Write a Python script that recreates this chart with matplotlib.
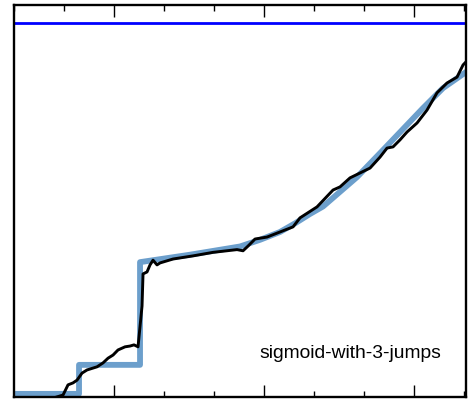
"""Noisy data over a sigmoid-with-3-jumps model curve."""

import matplotlib
matplotlib.use("Agg")
import matplotlib.pyplot as plt
from matplotlib.ticker import MultipleLocator

plt.rcParams["font.family"] = ["Liberation Sans", "DejaVu Sans"]

# model curve (steps then smooth rise)
model_x = [0.08, 1.30, 1.30, 2.52, 2.52, 3.52, 4.52, 4.92, 5.32, 5.62,
           5.92, 6.18, 6.86, 7.38, 8.18, 8.58, 9.04]
model_y = [0.8, 0.8, 8.2, 8.2, 34.4, 36.3, 38.4, 40.1, 42.1, 44.3,
           46.7, 48.6, 56.1, 63.0, 73.7, 78.8, 82.9]

# measured data
data_x = [0.0, 0.7, 0.98, 1.08, 1.18, 1.26, 1.36, 1.46, 1.66, 1.78, 1.88,
          1.98, 2.08, 2.22, 2.32, 2.40, 2.48, 2.56, 2.58, 2.66, 2.72, 2.78,
          2.86, 2.92, 3.18, 3.58, 3.98, 4.46, 4.58, 4.68, 4.82, 5.06, 5.32,
          5.58, 5.72, 6.06, 6.38, 6.52, 6.72, 7.12, 7.32, 7.46, 7.58, 7.72,
          7.86, 8.06, 8.26, 8.46, 8.66, 8.86, 8.98, 9.04]
data_y = [-0.8, -0.6, 0.5, 3.1, 3.6, 4.3, 6.1, 6.9, 7.7, 8.7, 9.9,
          10.7, 12.0, 12.8, 13.0, 13.3, 12.8, 23.2, 31.4, 31.9, 33.7, 34.9,
          33.7, 34.2, 35.2, 36.0, 36.9, 37.6, 37.3, 38.5, 40.3, 40.8, 42.1,
          43.4, 45.7, 48.5, 52.8, 53.6, 55.9, 58.4, 61.2, 63.5, 63.8, 65.6,
          67.6, 69.9, 73.2, 77.6, 80.1, 81.6, 84.7, 85.5]

ceiling = 95.4
label = "sigmoid-with-3-jumps"

fig = plt.figure(figsize=(4.77, 3.99), dpi=100)
ax = fig.add_axes([0.0294, 0.005, 0.9476, 0.9825])

ax.axhline(ceiling, color="blue", lw=2.0)
ax.plot(model_x, model_y, color="#6c9fcc", lw=4.2, zorder=2)
ax.plot(data_x, data_y, color="black", lw=2.1, zorder=3)

ax.text(0.745, 0.11, label, transform=ax.transAxes, ha="center", va="center",
        fontsize=13.9)

ax.set_xlim(0, 9.04)
ax.set_ylim(0, 100)
ax.xaxis.set_major_locator(MultipleLocator(3, offset=2))
ax.xaxis.set_minor_locator(MultipleLocator(1))
ax.set_yticks([])
ax.tick_params(axis="x", which="both", direction="in", top=True, bottom=True,
               labelbottom=False, width=1)
ax.tick_params(axis="x", which="major", length=8.5)
ax.tick_params(axis="x", which="minor", length=4)
for s in ax.spines.values():
    s.set_linewidth(1.7)

fig.savefig("out.png", dpi=100)
